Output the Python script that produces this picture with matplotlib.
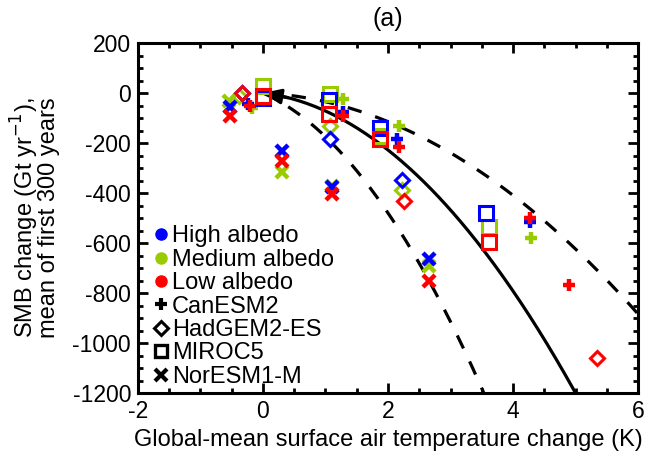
import numpy as np
import matplotlib.pyplot as plt
from matplotlib.lines import Line2D
from matplotlib.ticker import MultipleLocator

plt.rcParams['font.family'] = ['Liberation Sans', 'DejaVu Sans']
plt.rcParams['axes.unicode_minus'] = False

# temperature change (K) and SMB change (Gt/yr) per model, per albedo setting
can_high_x = [-0.24, 1.28, 2.15, 4.27]
can_high_y = [-44, -75, -184, -517]
can_med_x = [-0.18, 1.28, 2.18, 4.29]
can_med_y = [-60, -24, -131, -580]
can_low_x = [-0.20, 1.28, 2.17, 4.27, 4.89]
can_low_y = [-50, -93, -217, -501, -767]

had_high_x = [-0.34, 1.07, 2.23]
had_high_y = [-1, -184, -347]
had_med_x = [-0.38, 1.07, 2.23]
had_med_y = [-10, -131, -387]
had_low_x = [-0.34, 2.26, 5.34]
had_low_y = [2, -433, -1061]

mir_high_x = [0.0, 1.05, 1.87, 3.57]
mir_high_y = [-20, -27, -141, -480]
mir_med_x = [0.0, 1.07, 1.87, 3.62]
mir_med_y = [28, -4, -170, -535]
mir_low_x = [0.0, 1.05, 1.87, 3.62]
mir_low_y = [-13, -84, -184, -595]

nor_high_x = [-0.53, 0.30, 1.10, 2.66]
nor_high_y = [-55, -231, -375, -664]
nor_med_x = [-0.55, 0.30, 1.10, 2.66]
nor_med_y = [-31, -317, -371, -691]
nor_low_x = [-0.53, 0.30, 1.10, 2.66]
nor_low_y = [-91, -271, -404, -751]

# quadratic fits through the origin: y = a*T + b*T^2
fit_mid = [-30.0, -42.0]
fit_upper = [-12.3, -22.5]
fit_lower = [-110.0, -65.0]

blue = '#0000ff'
green = '#99cc00'
red = '#ff0000'

fig = plt.figure(figsize=(6.49, 4.58), dpi=100)
ax = fig.add_axes([0.2126, 0.1419, 0.7705, 0.7642])

T = np.linspace(0, 7, 300)
def quad(c, t):
    return c[0] * t + c[1] * t ** 2

ax.plot(T, quad(fit_mid, T), color='k', lw=2.3, zorder=2)
ax.plot(T, quad(fit_upper, T), color='k', lw=2.3, dashes=(4.5, 4.5), zorder=2)
ax.plot(T, quad(fit_lower, T), color='k', lw=2.3, dashes=(4.5, 4.5), zorder=2)
ax.annotate('', xy=(0, 0), xytext=(0.4, quad(fit_mid, 0.4)),
            arrowprops=dict(arrowstyle='-|>,head_length=0.6,head_width=0.25', color='k',
                            lw=2.3, mutation_scale=18, shrinkA=0, shrinkB=0), zorder=3)

groups = [
    ('P', can_med_x, can_med_y, can_high_x, can_high_y, can_low_x, can_low_y),
    ('D', had_med_x, had_med_y, had_high_x, had_high_y, had_low_x, had_low_y),
    ('s', mir_med_x, mir_med_y, mir_high_x, mir_high_y, mir_low_x, mir_low_y),
    ('X', nor_med_x, nor_med_y, nor_high_x, nor_high_y, nor_low_x, nor_low_y),
]
for mk, mx, my, hx, hy, lx, ly in groups:
    for xs, ys, col in [(mx, my, green), (hx, hy, blue), (lx, ly, red)]:
        if mk == 'P':
            ax.plot(xs, ys, ls='none', marker='+', ms=9, mew=3.2, color=col, zorder=4)
        elif mk == 'X':
            ax.plot(xs, ys, ls='none', marker='x', ms=8, mew=3.2, color=col, zorder=4)
        elif mk == 'D':
            ax.plot(xs, ys, ls='none', marker='D', ms=7.5, mew=2.2, mfc='none', mec=col, zorder=4)
        else:
            ax.plot(xs, ys, ls='none', marker='s', ms=9.5, mew=2.2, mfc='none', mec=col, zorder=4)

ax.set_xlim(-2, 6)
ax.set_ylim(-1200, 200)
ax.xaxis.set_major_locator(MultipleLocator(2))
ax.xaxis.set_minor_locator(MultipleLocator(0.5))
ax.yaxis.set_major_locator(MultipleLocator(200))
ax.yaxis.set_minor_locator(MultipleLocator(50))
ax.tick_params(which='both', direction='in', top=True, right=True, width=2, labelsize=16.5)
ax.tick_params(which='major', length=7, pad=5)
ax.tick_params(which='minor', length=3.5)
for sp in ax.spines.values():
    sp.set_linewidth(2.2)

ax.set_title('(a)', fontsize=18, pad=12)
ax.set_xlabel('Global-mean surface air temperature change (K)', fontsize=17, labelpad=4)
ax.set_ylabel('SMB change (Gt yr$^{-1}$),\nmean of first 300 years', fontsize=17,
              linespacing=0.8, labelpad=9)

handles = [
    Line2D([], [], ls='none', marker='o', ms=8, color=blue),
    Line2D([], [], ls='none', marker='o', ms=8, color=green),
    Line2D([], [], ls='none', marker='o', ms=8, color=red),
    Line2D([], [], ls='none', marker='+', ms=9, mew=3, color='k'),
    Line2D([], [], ls='none', marker='D', ms=7, mew=2.2, mfc='none', mec='k'),
    Line2D([], [], ls='none', marker='s', ms=9, mew=2.4, mfc='none', mec='k'),
    Line2D([], [], ls='none', marker='x', ms=8, mew=3, color='k'),
]
labels = ['High albedo', 'Medium albedo', 'Low albedo', 'CanESM2', 'HadGEM2-ES',
          'MIROC5', 'NorESM1-M']
ax.legend(handles, labels, loc='lower left', bbox_to_anchor=(0.028, 0.008),
          frameon=False, fontsize=17, handlelength=0.6, handletextpad=0.15,
          labelspacing=0.06, borderaxespad=0.0, borderpad=0.1)

fig.savefig('out.png', dpi=100)
